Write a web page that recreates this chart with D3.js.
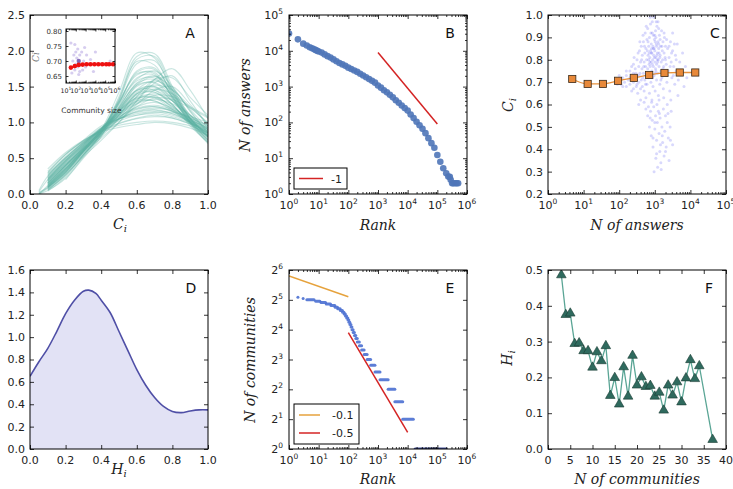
<!DOCTYPE html>
<html><head><meta charset="utf-8">
<script src="https://cdn.jsdelivr.net/npm/d3@7"></script>
<style>body{margin:0;background:#fff}svg{display:block}</style>
</head><body><svg id="c" width="733" height="489" font-family="DejaVu Sans, sans-serif"></svg>
<script>
// ---------- DATA ----------
// Panel A: density curves of C_i per community, sampled on gridA
const gridA=[0.05,0.1,0.2,0.3,0.4,0.5,0.6,0.7,0.8,0.9,1.0];
const curvesA=[
[null,0.06,0.26,0.55,0.86,1.36,1.92,1.96,1.5,1.05,0.74],
[null,0.10,0.30,0.60,0.90,1.42,1.97,1.90,1.42,1.00,0.70],
[null,null,0.20,0.50,0.80,1.30,1.82,1.86,1.45,1.05,0.80],
[0.00,0.08,0.30,0.60,0.86,1.26,1.72,1.76,1.40,1.05,0.80],
[null,0.12,0.35,0.62,0.90,1.30,1.66,1.70,1.35,1.00,0.78],
[null,0.05,0.28,0.58,0.88,1.28,1.60,1.72,1.50,1.15,0.85],
[null,0.10,0.32,0.60,0.82,1.20,1.55,1.65,1.45,1.10,0.90],
[0.02,0.10,0.35,0.62,0.85,1.15,1.45,1.50,1.30,1.00,0.80],
[null,0.15,0.40,0.65,0.90,1.20,1.45,1.45,1.25,0.98,0.75],
[null,0.10,0.38,0.60,0.85,1.10,1.40,1.45,1.30,1.05,0.82],
[0.00,0.12,0.40,0.63,0.88,1.15,1.38,1.42,1.25,0.95,0.72],
[null,0.18,0.42,0.66,0.90,1.15,1.35,1.38,1.20,1.00,0.85],
[null,0.20,0.45,0.68,0.92,1.12,1.30,1.35,1.22,1.02,0.88],
[null,0.15,0.40,0.64,0.87,1.10,1.32,1.40,1.30,1.10,0.90],
[null,0.22,0.48,0.70,0.92,1.08,1.22,1.28,1.20,1.05,0.90],
[0.05,0.25,0.50,0.72,0.92,1.05,1.18,1.22,1.15,1.00,0.85],
[null,0.20,0.47,0.70,0.90,1.05,1.15,1.18,1.12,1.00,0.86],
[null,0.28,0.52,0.73,0.93,1.05,1.12,1.15,1.10,1.02,0.92],
[null,0.30,0.55,0.75,0.95,1.05,1.10,1.12,1.08,1.00,0.90],
[null,0.25,0.50,0.72,0.88,0.98,1.05,1.08,1.06,0.98,0.88],
[null,0.30,0.55,0.74,0.88,0.96,1.00,1.02,1.00,0.95,0.85],
[null,0.35,0.58,0.75,0.87,0.93,0.97,1.00,0.98,0.92,0.82],
[null,0.10,0.30,0.55,0.80,1.05,1.30,1.55,1.65,1.30,0.95],
[null,0.12,0.32,0.56,0.78,1.00,1.25,1.45,1.50,1.25,0.95],
[null,0.08,0.28,0.52,0.75,1.00,1.30,1.60,1.75,1.45,1.05],
[0.00,0.05,0.22,0.52,0.84,1.32,1.85,1.80,1.38,0.98,0.72],
[null,0.14,0.36,0.62,0.90,1.25,1.58,1.62,1.38,1.08,0.84],
[null,0.16,0.38,0.63,0.88,1.18,1.50,1.56,1.36,1.06,0.80],
[null,0.08,0.33,0.60,0.86,1.22,1.52,1.55,1.32,1.00,0.76],
[null,0.18,0.44,0.67,0.91,1.16,1.34,1.34,1.18,0.98,0.82],
[null,0.22,0.46,0.68,0.90,1.10,1.26,1.32,1.26,1.10,0.95],
[0.03,0.20,0.46,0.69,0.91,1.08,1.20,1.24,1.18,1.06,0.96],
[null,0.26,0.50,0.71,0.90,1.02,1.10,1.14,1.14,1.08,1.00],
[null,0.10,0.34,0.60,0.86,1.18,1.46,1.58,1.46,1.18,0.92],
[null,0.06,0.26,0.55,0.84,1.22,1.62,1.66,1.36,1.02,0.76],
[null,0.14,0.36,0.62,0.88,1.12,1.36,1.46,1.40,1.20,1.00],
[null,0.20,0.42,0.64,0.86,1.06,1.26,1.38,1.36,1.22,1.08],
[null,0.12,0.34,0.58,0.82,1.06,1.36,1.60,1.62,1.35,1.10],
[null,0.16,0.40,0.64,0.88,1.12,1.30,1.30,1.16,1.00,0.86],
[null,0.24,0.48,0.70,0.90,1.04,1.16,1.20,1.16,1.06,0.94],
[null,0.04,0.24,0.54,0.85,1.33,1.88,1.92,1.46,1.02,0.72],
[null,0.09,0.31,0.59,0.87,1.28,1.70,1.74,1.42,1.06,0.82],
[null,0.13,0.36,0.61,0.86,1.20,1.54,1.60,1.40,1.10,0.86],
[null,0.17,0.41,0.65,0.89,1.16,1.42,1.48,1.30,1.04,0.80],
[null,0.21,0.45,0.67,0.90,1.13,1.33,1.36,1.22,1.02,0.84],
[null,0.27,0.51,0.72,0.91,1.05,1.14,1.17,1.12,1.03,0.93],
[null,0.32,0.56,0.74,0.89,0.99,1.06,1.10,1.06,0.98,0.88],
[null,0.11,0.33,0.58,0.83,1.10,1.40,1.52,1.45,1.22,0.98],
[0.01,0.09,0.31,0.60,0.88,1.27,1.68,1.68,1.34,1.02,0.79],
[null,0.15,0.39,0.63,0.87,1.14,1.40,1.42,1.24,1.00,0.80],
[null,0.19,0.43,0.66,0.89,1.10,1.28,1.30,1.18,1.02,0.90],
[null,0.07,0.27,0.54,0.82,1.16,1.52,1.64,1.48,1.16,0.86],
[null,0.23,0.47,0.69,0.90,1.07,1.19,1.22,1.16,1.04,0.92],
[null,0.12,0.35,0.61,0.87,1.17,1.44,1.50,1.34,1.06,0.82],
[null,0.18,0.40,0.62,0.84,1.04,1.22,1.34,1.32,1.20,1.06]
];
// Panel A inset: [log10 community size, C]
const insetScatter=[[1.5,0.76],[1.7,0.70],[1.8,0.72],[1.9,0.67],[2.0,0.73],[2.0,0.69],[2.1,0.71],[2.2,0.68],[2.2,0.74],[2.3,0.70],[2.4,0.72],[2.4,0.665],[2.5,0.69],[2.6,0.73],[2.7,0.67],[2.8,0.70],[3.0,0.68],[3.1,0.72],[3.3,0.69],[3.5,0.705],[4.0,0.73],[1.6,0.66],[2.9,0.745],[2.3,0.655],[5.5,0.70],[3.8,0.665],[1.9,0.755]];
const insetMeanX=[1.5,1.9,2.3,2.7,3.1,3.5,3.9,4.3,4.7,5.1,5.4,5.8];
const insetMeanY=[0.678,0.683,0.687,0.688,0.689,0.689,0.689,0.689,0.689,0.689,0.689,0.689];
const insetYTicks=[0.65,0.70,0.75,0.80];
const insetXTicks=[1,2,3,4,5,6];
// Panel B: [log10 rank, log10 answers]
const rankB=[[0,4.48],[0.3,4.32],[0.48,4.2],[0.6,4.15],[0.7,4.1],[0.78,4.07],[0.85,4.04],[0.9,4.02],[0.95,4.0],[1.0,3.98],
[1.1,3.95],[1.2,3.9],[1.3,3.85],[1.4,3.81],[1.5,3.76],[1.6,3.71],[1.7,3.66],[1.8,3.62],[1.9,3.58],[2.0,3.53],[2.1,3.49],[2.2,3.45],[2.3,3.41],
[2.4,3.36],[2.5,3.31],[2.6,3.26],[2.7,3.21],[2.8,3.16],[2.9,3.11],[3.0,3.03],[3.1,2.97],[3.2,2.9],[3.3,2.84],[3.4,2.77],[3.5,2.7],[3.6,2.62],
[3.7,2.55],[3.8,2.47],[3.9,2.4],[4.0,2.33],[4.1,2.22],[4.2,2.12],[4.3,2.02],[4.4,1.92],[4.5,1.82],[4.6,1.7],[4.7,1.56],[4.8,1.42],[4.9,1.29],
[5.0,1.09],[5.1,0.9],[5.2,0.72],[5.3,0.58],[5.37,0.49],[5.42,0.477],[5.45,0.40],[5.5,0.301],[5.54,0.301],[5.6,0.301],[5.65,0.301],[5.7,0.301]];
const fitB=[[1e3,9e3],[1e5,90]];
const legendB=["-1"];
// Panel C: scatter [log10 answers, C_i] and binned means
const scatterC=[[1.9,0.70],[2.0,0.71],[2.05,0.69],[2.1,0.72],[2.15,0.70],[2.2,0.73],[2.2,0.68],[2.25,0.71],[2.3,0.75],[2.3,0.69],[2.35,0.72],[2.35,0.66],[2.4,0.74],[2.4,0.70],[2.4,0.78],
[2.45,0.72],[2.45,0.76],[2.48,0.68],[2.5,0.80],[2.5,0.73],[2.52,0.65],[2.55,0.77],[2.55,0.70],[2.57,0.84],[2.58,0.74],[2.6,0.62],[2.6,0.79],[2.62,0.71],[2.62,0.86],[2.64,0.76],[2.65,0.68],[2.65,0.82],
[2.68,0.74],[2.68,0.88],[2.7,0.79],[2.7,0.66],[2.72,0.83],[2.72,0.71],[2.73,0.92],[2.74,0.77],[2.75,0.85],[2.75,0.63],[2.76,0.73],[2.77,0.80],[2.78,0.89],[2.78,0.69],[2.8,0.76],[2.8,0.94],[2.81,0.82],[2.82,0.72],[2.83,0.86],[2.84,0.78],[2.85,0.65],[2.85,0.90],[2.86,0.81],[2.87,0.74],[2.88,0.96],[2.88,0.84],[2.89,0.70],[2.9,0.79],[2.9,0.87],[2.91,0.61],[2.92,0.83],[2.92,0.75],[2.93,0.92],[2.94,0.80],[2.95,0.68],[2.95,0.86],[2.96,0.77],[2.97,0.99],[2.97,0.82],[2.98,0.73],[2.99,0.89],[3.0,0.79],[3.0,0.84],[3.01,0.66],[3.02,0.93],[3.02,0.76],[3.03,0.81],[3.04,0.87],[3.05,0.71],[3.05,0.78],[3.06,0.95],[3.07,0.83],[3.08,0.74],[3.09,0.88],[3.1,0.80],[3.1,0.64],[3.11,0.85],[3.12,0.77],[3.13,0.91],[3.14,0.69],[3.15,0.82],[3.16,0.86],[3.17,0.75],[3.18,0.79],[3.19,0.93],[3.2,0.72],[3.21,0.84],[3.22,0.80],[3.23,0.88],[3.24,0.67],[3.25,0.77],[3.26,0.83],[3.27,0.90],[3.28,0.74],[3.29,0.81],[3.3,0.86],
[2.86,0.79],[2.9,0.83],[2.93,0.78],[2.96,0.85],[2.99,0.81],[3.01,0.88],[3.03,0.75],[3.06,0.82],[3.08,0.79],[3.11,0.87],[3.14,0.81],[2.83,0.80],[2.79,0.84],[3.0,0.91],[3.04,0.97],
[3.32,0.78],[3.34,0.70],[3.36,0.85],[3.38,0.75],[3.4,0.81],[3.42,0.66],[3.44,0.88],[3.46,0.79],[3.48,0.72],[3.5,0.84],[3.53,0.77],[3.56,0.69],[3.58,0.82],[3.6,0.75],[3.63,0.87],[3.66,0.71],[3.7,0.79],[3.74,0.74],[3.78,0.83],[3.82,0.68],[3.86,0.77],[3.9,0.72],[3.5,0.92],[3.45,0.62],[3.65,0.64],
[2.75,0.58],[2.8,0.55],[2.85,0.50],[2.88,0.57],[2.9,0.46],[2.93,0.53],[2.95,0.41],[2.97,0.59],[3.0,0.49],[3.02,0.55],[3.03,0.36],[3.05,0.44],[3.07,0.52],[3.08,0.32],[3.1,0.57],[3.12,0.47],[3.14,0.39],[3.15,0.54],[3.17,0.34],[3.2,0.50],[3.22,0.43],[3.24,0.58],[3.26,0.37],[3.28,0.48],[3.3,0.55],[3.32,0.41],[3.35,0.52],[3.38,0.45],[3.4,0.35],[3.43,0.50],[3.46,0.57],[3.5,0.42],[2.98,0.30],[3.18,0.31],[2.92,0.62],[3.06,0.60],
[2.3,0.72],[2.35,0.77],[2.4,0.67],[2.42,0.81],[2.47,0.74],[2.5,0.69],[2.53,0.83],[2.56,0.73],[2.58,0.88],[2.6,0.67],[2.63,0.80],[2.66,0.72],[2.67,0.91],[2.69,0.77],[2.71,0.86],[2.74,0.69],[2.76,0.95],[2.79,0.74],[2.81,0.88],[2.84,0.83],[2.87,0.77],[2.89,0.92],[2.91,0.85],[2.94,0.72],[2.96,0.91],[2.98,0.85],[3.01,0.74],[3.03,0.90],[3.05,0.86],[3.07,0.80],[3.09,0.97],[3.12,0.83],[3.15,0.89],[3.17,0.71],[3.2,0.86],[3.23,0.76],[3.26,0.92],[3.3,0.80],[3.33,0.89],[3.36,0.73],[3.4,0.86],[3.43,0.77],[3.47,0.83],[3.52,0.73],[3.55,0.87],[3.6,0.80],[2.2,0.75],[2.1,0.68],[2.0,0.73],[1.95,0.69],[2.55,0.60],[2.7,0.61],[2.82,0.59],[3.12,0.62],[3.25,0.63],[3.35,0.60],[2.87,0.99],[2.93,0.97],[3.0,1.0],[3.11,0.94],
[2.95,0.45],[3.05,0.38],[3.13,0.56],[3.21,0.46],[3.3,0.39],[3.37,0.56],[3.44,0.44],[3.0,0.52],[2.87,0.54],[3.16,0.42]];
const binsCx=[4.8,13,35,93,257,696,1870,5020,13700];
const binsCy=[0.714,0.692,0.692,0.706,0.719,0.732,0.741,0.743,0.743];
// Panel D: density of H_i
const densD=[[0,0.65],[0.05,0.78],[0.1,0.9],[0.15,1.05],[0.2,1.21],[0.25,1.33],[0.3,1.41],[0.33,1.42],[0.37,1.39],[0.4,1.33],[0.45,1.22],[0.5,1.05],[0.55,0.88],[0.6,0.71],[0.65,0.57],[0.7,0.46],[0.75,0.38],[0.8,0.335],[0.85,0.325],[0.9,0.34],[0.95,0.35],[1.0,0.35]];
// Panel E: N of communities value, first rank, last rank
const stepsE=[[34,2,2],[33,3,3],[32,4,7],[31,8,11],[30,12,17],[29,18,25],[28,26,35],[27,36,43],[26,44,53],[25,54,63],[24,64,71],[23,72,79],[22,80,87],[21,88,96],[20,97,104],[19,105,112],[18,113,122],[17,123,132],[16,133,145],[15,146,160],[14,161,178],[13,179,200],[12,201,235],[11,236,280],[10,281,340],[9,341,430],[8,431,565],[7,566,790],[6,791,1170],[5,1171,2200],[4,2201,3700],[3,3701,6800],[2,6801,15500],[1,17800,200000]];
const fitE1=[[1,55.7],[100,34.4]];
const fitE2=[[100,14.9],[1e4,1.47]];
const legendE=["-0.1","-0.5"];
// Panel F
const commF=[3,4,5,6,7,8,9,10,11,12,13,14,15,16,17,18,19,20,21,22,23,24,25,26,27,28,29,30,31,32,33,34,37];
const hF=[0.486,0.375,0.379,0.294,0.296,0.274,0.274,0.228,0.271,0.246,0.288,0.149,0.199,0.125,0.229,0.147,0.261,0.178,0.201,0.174,0.177,0.147,0.158,0.108,0.178,0.15,0.187,0.131,0.198,0.249,0.196,0.232,0.026];

// ---------- DRAWING ----------
const svg=d3.select("#c");
const PW=178, PH=179;
let clipN=0;
function panel(x0,y0){
  const g=svg.append("g").attr("transform",`translate(${x0},${y0})`);
  const id="cl"+(clipN++);
  g.append("clipPath").attr("id",id).append("rect").attr("width",PW).attr("height",PH);
  g.data=g.append("g").attr("clip-path",`url(#${id})`);
  return g;
}
function axes(g,x,y,o,w=PW,h=PH,tl=4,tm=2){
  const add=(fn,sc,vals,size,tr)=>{ if(!vals||!vals.length) return;
    const a=g.append("g").attr("transform",tr).call(fn(sc).tickValues(vals).tickSize(size).tickFormat(()=>""));
    a.select(".domain").remove(); a.selectAll("text").remove();
    a.selectAll("line").attr("stroke","#000").attr("stroke-width",0.8);};
  [[o.xt,tl],[o.xm,tm]].forEach(([v,s])=>{add(d3.axisBottom,x,v,-s,`translate(0,${h})`);add(d3.axisTop,x,v,-s,"translate(0,0)");});
  [[o.yt,tl],[o.ym,tm]].forEach(([v,s])=>{add(d3.axisLeft,y,v,-s,"translate(0,0)");add(d3.axisRight,y,v,-s,`translate(${w},0)`);});
  g.append("rect").attr("width",w).attr("height",h).attr("fill","none").attr("stroke","#000").attr("stroke-width",1);
}
function minorLog(lo,hi,base){const r=[];for(let e=lo;e<hi;e++)for(let k=2;k<base;k++)r.push(k*Math.pow(base,e));return r;}
function sans(t){return t.style("font-family","'DejaVu Sans', sans-serif");}
function xLabels(g,x,vals,fmt,yy=PH+15,fs=11){
  vals.forEach(v=>sans(g.append("text")).attr("x",x(v)).attr("y",yy).attr("text-anchor","middle").attr("font-size",fs).attr("fill","#222").text(fmt(v)));
}
function yLabels(g,y,vals,fmt,xx=-5,fs=11){
  vals.forEach(v=>sans(g.append("text")).attr("x",xx).attr("y",y(v)).attr("dy","0.36em").attr("text-anchor","end").attr("font-size",fs).attr("fill","#222").text(fmt(v)));
}
function powLabel(g,px,py,base,e,anchor,fs=11,sfs=7.5){
  const t=sans(g.append("text")).attr("x",px).attr("y",py).attr("text-anchor",anchor).attr("font-size",fs).attr("fill","#222");
  t.append("tspan").text(base); t.append("tspan").attr("font-size",sfs).attr("dy",-fs*0.45).text(e);
  return t;
}
function mlabel(x,y,main,sub,rot){
  const t=svg.append("text").attr("transform",`translate(${x},${y})`+(rot?" rotate(-90)":"")).attr("text-anchor","middle")
    .style("font-family","'DejaVu Serif', serif").style("font-style","italic").attr("font-size",14).attr("fill","#222");
  t.append("tspan").text(main);
  if(sub) t.append("tspan").attr("font-size",10).attr("dy",3).text(sub);
}
function letter(g,px,py,s){sans(g.append("text")).attr("x",px).attr("y",py).attr("text-anchor","middle").attr("font-size",14).attr("fill","#111").text(s);}
const f1=d3.format(".1f");

// ===== Panel A =====
{
  const g=panel(30,15);
  const x=d3.scaleLinear().domain([0,1]).range([0,PW]);
  const y=d3.scaleLinear().domain([0,2.5]).range([PH,0]);
  const line=d3.line().defined(d=>d[1]!=null).x(d=>x(d[0])).y(d=>y(d[1])).curve(d3.curveCatmullRom.alpha(0.5));
  curvesA.forEach((c,i)=>{
    g.data.append("path").attr("d",line(c.map((v,j)=>[gridA[j],v]))).attr("fill","none")
      .attr("stroke","#5fb4a4").attr("stroke-opacity",0.33).attr("stroke-width",1.1);
  });
  const xt=d3.range(0,1.01,0.2), yt=d3.range(0,2.51,0.5);
  axes(g,x,y,{xt,yt});
  xLabels(g,x,xt,f1); yLabels(g,y,yt,f1);
  letter(g,160,23,"A");
  // inset
  const ix=36, iy=14, iw=49, ih=54;
  const gi=g.append("g").attr("transform",`translate(${ix},${iy})`);
  gi.append("rect").attr("width",iw).attr("height",ih).attr("fill","#fff");
  const sx=d3.scaleLog().domain([10,1e6]).range([0,iw]);
  const sy=d3.scaleLinear().domain([0.6267,0.8067]).range([ih,0]);
  gi.selectAll("circle.s").data(insetScatter).join("circle").attr("cx",d=>sx(10**d[0])).attr("cy",d=>sy(d[1]))
    .attr("r",1.6).attr("fill","#8a6fd0").attr("fill-opacity",0.35);
  gi.append("circle").attr("cx",sx(10**2.3)).attr("cy",sy(0.70)).attr("r",2.2).attr("fill","#5a3aa0").attr("fill-opacity",0.7);
  gi.append("path").attr("d",d3.line()(insetMeanX.map((v,i)=>[sx(10**v),sy(insetMeanY[i])]))).attr("stroke","#e01010").attr("stroke-width",1.5).attr("fill","none");
  gi.selectAll("circle.m").data(insetMeanX).join("circle").attr("cx",d=>sx(10**d)).attr("cy",(d,i)=>sy(insetMeanY[i])).attr("r",2.3).attr("fill","#ee1111");
  axes(gi,sx,sy,{xt:insetXTicks.map(e=>10**e),yt:insetYTicks,xm:minorLog(1,6,10)},iw,ih,2.5,1.3);
  insetYTicks.forEach(v=>sans(gi.append("text")).attr("x",-4).attr("y",sy(v)).attr("dy","0.36em").attr("text-anchor","end").attr("font-size",7).attr("fill","#333").text(d3.format(".2f")(v)));
  insetXTicks.forEach(e=>powLabel(gi,sx(10**e),ih+10,"10",e,"middle",6.3,4.5));
  sans(gi.append("text")).attr("x",iw/2+1).attr("y",ih+30).attr("text-anchor","middle").attr("font-size",7.5).attr("fill","#333").text("Community size");
  g.append("text").attr("transform","translate(9,42) rotate(-90)").attr("text-anchor","middle").style("font-family","'DejaVu Serif', serif").style("font-style","italic").attr("font-size",9).attr("fill","#777").text("Ci");
  mlabel(120,229,"C","i",false);
}
// ===== Panel B =====
{
  const g=panel(289,15);
  const x=d3.scaleLog().domain([1,1e6]).range([0,PW]);
  const y=d3.scaleLog().domain([1,1e5]).range([PH,0]);
  g.data.selectAll("circle").data(rankB).join("circle").attr("cx",d=>x(10**d[0])).attr("cy",d=>y(10**d[1]))
    .attr("r",3.3).attr("fill","#4f75b8").attr("fill-opacity",0.9);
  g.data.append("line").attr("x1",x(fitB[0][0])).attr("y1",y(fitB[0][1])).attr("x2",x(fitB[1][0])).attr("y2",y(fitB[1][1])).attr("stroke","#d42424").attr("stroke-width",1.5);
  const xt=d3.range(0,7).map(e=>10**e), yt=d3.range(0,6).map(e=>10**e);
  axes(g,x,y,{xt,yt,xm:minorLog(0,6,10),ym:minorLog(0,5,10)});
  d3.range(0,7).forEach(e=>powLabel(g,x(10**e),PH+15,"10",e,"middle"));
  d3.range(0,6).forEach(e=>powLabel(g,-6,y(10**e)+4,"10",e,"end"));
  letter(g,161,23,"B");
  const lg=g.append("g").attr("transform","translate(5,153)");
  lg.append("rect").attr("width",53).attr("height",21).attr("fill","#fff").attr("stroke","#000").attr("stroke-width",1);
  lg.append("line").attr("x1",5).attr("x2",29).attr("y1",10.5).attr("y2",10.5).attr("stroke","#d42424").attr("stroke-width",1.5);
  sans(lg.append("text")).attr("x",37).attr("y",14.5).attr("font-size",11).attr("fill","#222").text(legendB[0]);
  mlabel(250,105,"N of answers",null,true);
  mlabel(378,230,"Rank",null,false);
}
// ===== Panel C =====
{
  const g=panel(548,15);
  const x=d3.scaleLog().domain([1,1e5]).range([0,PW]);
  const y=d3.scaleLinear().domain([0.2,1.0]).range([PH,0]);
  g.data.selectAll("circle").data(scatterC).join("circle").attr("cx",d=>x(10**d[0])).attr("cy",d=>y(d[1]))
    .attr("r",1.5).attr("fill","#3a3aee").attr("fill-opacity",0.2);
  g.data.append("path").attr("d",d3.line().curve(d3.curveMonotoneX)(binsCx.map((v,i)=>[x(v),y(binsCy[i])]))).attr("fill","none").attr("stroke","#e8913c").attr("stroke-width",1.3);
  g.data.selectAll("rect.b").data(binsCx).join("rect").attr("x",d=>x(d)-3.6).attr("y",(d,i)=>y(binsCy[i])-3.6).attr("width",7.2).attr("height",7.2)
    .attr("fill","#e8893a").attr("stroke","#3a2a1a").attr("stroke-width",0.8);
  const yt=d3.range(0.2,1.001,0.1), xt=d3.range(0,6).map(e=>10**e);
  axes(g,x,y,{xt,yt,xm:minorLog(0,5,10)});
  d3.range(0,6).forEach(e=>powLabel(g,x(10**e),PH+15,"10",e,"middle"));
  yLabels(g,y,yt,f1);
  letter(g,167,23,"C");
  mlabel(513,105,"C","i",true);
  mlabel(637,230,"N of answers",null,false);
}
// ===== Panel D =====
{
  const g=panel(30,270);
  const x=d3.scaleLinear().domain([0,1]).range([0,PW]);
  const y=d3.scaleLinear().domain([0,1.6]).range([PH,0]);
  g.data.append("path").attr("d",d3.area().x(d=>x(d[0])).y0(y(0)).y1(d=>y(d[1])).curve(d3.curveCatmullRom)(densD)).attr("fill","#e2e2f5");
  g.data.append("path").attr("d",d3.line().x(d=>x(d[0])).y(d=>y(d[1])).curve(d3.curveCatmullRom)(densD)).attr("fill","none").attr("stroke","#4f4fa6").attr("stroke-width",1.6);
  const xt=d3.range(0,1.01,0.2), yt=d3.range(0,1.61,0.2);
  axes(g,x,y,{xt,yt});
  xLabels(g,x,xt,f1); yLabels(g,y,yt,f1);
  letter(g,161,23,"D");
  mlabel(119,474,"H","i",false);
}
// ===== Panel E =====
{
  const g=panel(289,270);
  const x=d3.scaleLog().domain([1,1e6]).range([0,PW]);
  const y=d3.scaleLog().base(2).domain([1,64]).range([PH,0]);
  g.data.selectAll("line.s").data(stepsE).join("line").attr("x1",d=>x(d[1])).attr("x2",d=>x(d[2])).attr("y1",d=>y(d[0])).attr("y2",d=>y(d[0]))
    .attr("stroke",d=>d[0]===1?"#2a3a8a":"#4a6fd2").attr("stroke-width",3).attr("stroke-linecap","round").attr("stroke-opacity",0.9);
  g.data.append("line").attr("x1",x(fitE1[0][0])).attr("y1",y(fitE1[0][1])).attr("x2",x(fitE1[1][0])).attr("y2",y(fitE1[1][1])).attr("stroke","#e6a23c").attr("stroke-width",1.5);
  g.data.append("line").attr("x1",x(fitE2[0][0])).attr("y1",y(fitE2[0][1])).attr("x2",x(fitE2[1][0])).attr("y2",y(fitE2[1][1])).attr("stroke","#d42424").attr("stroke-width",1.5);
  const xt=d3.range(0,7).map(e=>10**e), yt=d3.range(0,7).map(e=>2**e);
  axes(g,x,y,{xt,yt,xm:minorLog(0,6,10)});
  d3.range(0,7).forEach(e=>powLabel(g,x(10**e),PH+15,"10",e,"middle"));
  d3.range(0,7).forEach(e=>powLabel(g,-6,y(2**e)+4,"2",e,"end"));
  letter(g,161,23,"E");
  const lg=g.append("g").attr("transform","translate(5,134)");
  lg.append("rect").attr("width",65).attr("height",40).attr("fill","#fff").attr("stroke","#000").attr("stroke-width",1);
  lg.append("line").attr("x1",5).attr("x2",26).attr("y1",11).attr("y2",11).attr("stroke","#e6a23c").attr("stroke-width",1.5);
  lg.append("line").attr("x1",5).attr("x2",26).attr("y1",29).attr("y2",29).attr("stroke","#d42424").attr("stroke-width",1.5);
  sans(lg.append("text")).attr("x",38).attr("y",15).attr("font-size",11).attr("fill","#222").text(legendE[0]);
  sans(lg.append("text")).attr("x",38).attr("y",33).attr("font-size",11).attr("fill","#222").text(legendE[1]);
  mlabel(255,360,"N of communities",null,true);
  mlabel(378,484,"Rank",null,false);
}
// ===== Panel F =====
{
  const g=panel(548,270);
  const x=d3.scaleLinear().domain([0,40]).range([0,PW]);
  const y=d3.scaleLinear().domain([0,0.5]).range([PH,0]);
  g.data.append("path").attr("d",d3.line()(commF.map((v,i)=>[x(v),y(hF[i])]))).attr("fill","none").attr("stroke","#5aa595").attr("stroke-width",1.3);
  g.data.selectAll("path.t").data(commF).join("path").attr("transform",(d,i)=>`translate(${x(d)},${y(hF[i])})`)
    .attr("d",d3.symbol(d3.symbolTriangle,40)).attr("fill","#2f6a5e").attr("stroke","#1a3a33").attr("stroke-width",0.6);
  const xt=d3.range(0,41,5), yt=d3.range(0,0.501,0.1);
  axes(g,x,y,{xt,yt});
  xLabels(g,x,xt,d3.format("d")); yLabels(g,y,yt,f1);
  letter(g,161,23,"F");
  mlabel(512,358,"H","i",true);
  mlabel(637,484,"N of communities",null,false);
}
</script></body></html>
